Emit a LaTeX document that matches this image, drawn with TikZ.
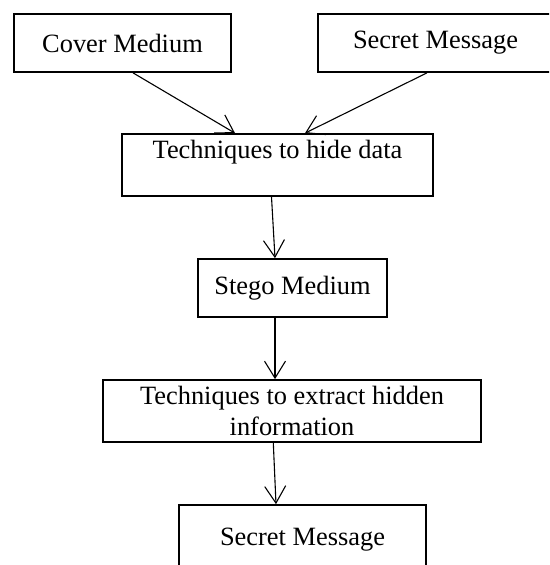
\documentclass[tikz,border=0pt]{standalone}
\usepackage{fontspec}
\setmainfont{Liberation Serif}
\usetikzlibrary{arrows.meta}
\begin{document}
\begin{tikzpicture}[x=1pt,y=-1pt,
  box/.style={draw=black, line width=1.7pt, rectangle, inner sep=0pt, align=center,
    font=\fontsize{26.4}{30.4}\selectfont},
  conn/.style={draw=black, line width=1.1pt, -{Straight Barb[length=17pt,width=21pt,line width=1.1pt]}}]
\useasboundingbox (0,0) rectangle (549,565);
\clip (0,0) rectangle (549,565);
\fill[white] (0,0) rectangle (549,565);
\node[box, minimum width=217pt, minimum height=58pt] (cover) at (122.5,43) {Cover Medium};
\node[box, minimum width=250pt, minimum height=58pt] (secret) at (443,43) {Secret Message\hspace*{15pt}};
\node[box, minimum width=311pt, minimum height=62pt] (hide) at (277.5,165) {Techniques to hide data\\ \mbox{}};
\node[box, minimum width=189pt, minimum height=58pt] (stego) at (292.5,288) {Stego Medium};
\node[box, minimum width=378pt, minimum height=62pt] (extract) at (292,411) {Techniques to extract hidden\\ information};
\node[box, minimum width=247pt, minimum height=70pt] (secret2) at (302.5,540) {Secret Message};
\draw[conn] ([xshift=10.5pt]cover.south) -- ([xshift=-42.5pt]hide.north);
\draw[conn] ([xshift=-16pt]secret.south) -- ([xshift=27.5pt]hide.north);
\draw[conn] ([xshift=-6pt]hide.south) -- ([xshift=-17.5pt]stego.north);
\draw[conn] ([xshift=-17.5pt]stego.south) -- ([xshift=-17pt]extract.north);
\draw[conn] ([xshift=-18.7pt]extract.south) -- ([xshift=-26.5pt]secret2.north);
\end{tikzpicture}
\end{document}
